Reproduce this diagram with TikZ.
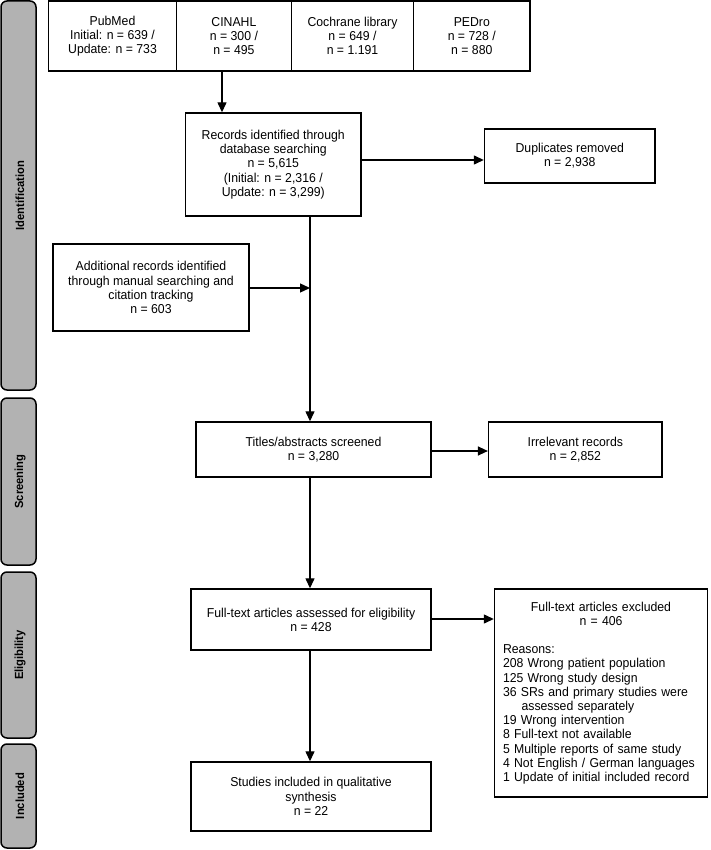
\documentclass[tikz,border=0pt]{standalone}
\usepackage{fontspec}
\setmainfont{Liberation Sans}[FakeStretch=0.95]
\usetikzlibrary{arrows.meta}
\tikzset{
  box/.style={draw=black, line width=1.4pt, fill=white, align=center, inner sep=2pt,
    font=\fontsize{12.9}{14.2}\selectfont},
  phase/.style={draw=black, line width=1.5pt, fill=black!30, rounded corners=6pt},
  phaselabel/.style={rotate=90, font=\fontsize{11.8}{13}\selectfont\bfseries},
  arr/.style={line width=1.3pt, -{Triangle[length=10pt,width=9pt]}},
  ln/.style={line width=1.3pt}
}
\begin{document}
\begin{tikzpicture}[x=1pt,y=-1pt]
\useasboundingbox (0,0) rectangle (710,850);
% phase bars
\node[phase, minimum width=35pt, minimum height=389pt] (pid) at (18.5,195.5) {};
\node[phaselabel] (lid) at (20,195.5) {Identification};
\node[phase, minimum width=35pt, minimum height=167pt] (psc) at (18.5,481.5) {};
\node[phaselabel] (lsc) at (20,481.5) {Screening};
\node[phase, minimum width=35pt, minimum height=166pt] (pel) at (18.5,655) {};
\node[phaselabel] (lel) at (20,655) {Eligibility};
\node[phase, minimum width=35pt, minimum height=104pt] (pin) at (18.5,796) {};
\node[phaselabel] (lin) at (20,796) {Included};
% database boxes
\node[box, minimum width=127.8pt, minimum height=70pt] (pubmed) at (112.5,36) {PubMed\\Initial: n = 639 /\\Update: n = 733};
\node[box, minimum width=115pt, minimum height=70pt] (cinahl) at (233.9,36) {CINAHL\\n = 300 /\\n = 495};
\node[box, minimum width=122.2pt, minimum height=70pt] (cochrane) at (352.5,36) {Cochrane library\\n = 649 /\\n = 1.191};
\node[box, minimum width=116.4pt, minimum height=70pt] (pedro) at (471.8,36) {PEDro\\n = 728 /\\n = 880};
% main flow
\node[box, minimum width=175.5pt, minimum height=103pt] (records) at (273.25,164.5) {Records identified through\\database searching\\n = 5,615\\(Initial: n = 2,316 /\\Update: n = 3,299)};
\node[box, minimum width=170.5pt, minimum height=54pt] (dup) at (569.75,156) {Duplicates removed\\n = 2,938};
\node[box, minimum width=196pt, minimum height=87pt] (add) at (151,287.5) {Additional records identified\\through manual searching and\\citation tracking\\n = 603};
\node[box, minimum width=235pt, minimum height=55pt] (titles) at (313.5,449.5) {Titles/abstracts screened\\n = 3,280};
\node[box, minimum width=173.4pt, minimum height=55pt] (irr) at (575.3,449.5) {Irrelevant records\\n = 2,852};
\node[box, minimum width=240pt, minimum height=61pt] (full) at (311,619.5) {Full-text articles assessed for eligibility\\n = 428};
\node[box, minimum width=213pt, minimum height=208pt, text width=196pt, align=left] (excl) at (601,693) {\centering Full-text articles excluded\\n = 406\par
\vspace{14.2pt}\raggedright Reasons:\\
208 Wrong patient population\\
125 Wrong study design\\
36 SRs and primary studies were\\
\hspace*{18.6pt}assessed separately\\
19 Wrong intervention\\
8 Full-text not available\\
5 Multiple reports of same study\\
4 Not English / German languages\\
1 Update of initial included record\par};
\node[box, minimum width=240pt, minimum height=69pt] (studies) at (311,796.5) {Studies included in qualitative\\synthesis\\n = 22};
% helper coordinates
\coordinate (ax) at (222,0);
\coordinate (mx) at (310,0);
\coordinate (yd) at (0,160);
\coordinate (ya) at (0,288);
\coordinate (yi) at (0,451);
\coordinate (ye) at (0,619);
% connectors
\draw[arr] (cinahl.south -| ax) -- (records.north -| ax);
\draw[arr] (records.east |- yd) -- (dup.west |- yd);
\draw[arr] (records.south -| mx) -- (titles.north -| mx);
\draw[arr] (add.east |- ya) -- (mx |- ya);
\draw[arr] (titles.east |- yi) -- (irr.west |- yi);
\draw[arr] (titles.south -| mx) -- (full.north -| mx);
\draw[arr] (full.east |- ye) -- (excl.west |- ye);
\draw[arr] (full.south -| mx) -- (studies.north -| mx);
\end{tikzpicture}
\end{document}
